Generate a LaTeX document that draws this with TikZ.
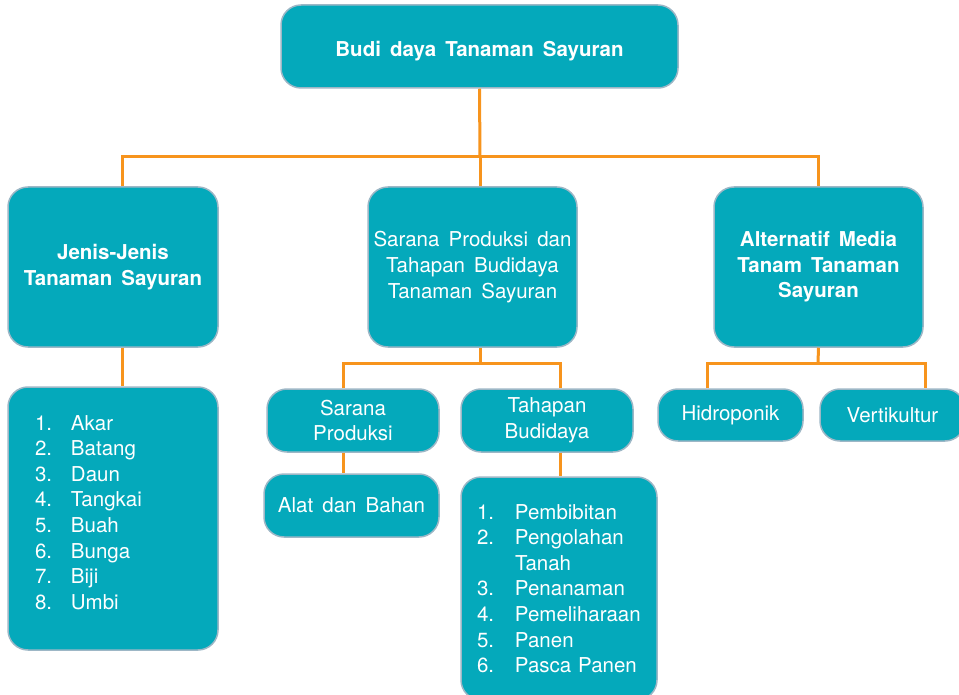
\documentclass[tikz,border=0pt]{standalone}
\usepackage{fontspec}
\setmainfont{TeX Gyre Heros}[WordSpace=1.6]
\definecolor{tosca}{HTML}{04A9BB}
\definecolor{rim}{HTML}{9DB7C6}
\definecolor{jingga}{HTML}{F7941D}

\begin{document}
\begin{tikzpicture}[x=1pt, y=-1pt, font=\fontsize{20.5}{25.6}\selectfont,
  box/.style={draw=rim, line width=1.5, fill=tosca, text=white, rounded corners=20, align=center, inner sep=0},
  listbox/.style={box, align=left, inner xsep=18, text width=#1},
  link/.style={draw=jingga, line width=3}]

\useasboundingbox (0,0) rectangle (959,695);
\clip (0,0) rectangle (959,695);

%kotak utama
\node [box, minimum width=397, minimum height=83] (top) at (479.5,46.5) {\raisebox{-5pt}[\height][\depth]{\bfseries Budi daya Tanaman Sayuran}};

%tingkat kedua
\node [box, minimum width=210, minimum height=160] (jenis) at (113,267) {\bfseries Jenis-Jenis\\ \bfseries Tanaman Sayuran};
\node [box, minimum width=209, minimum height=160] (sarana) at (472.5,267) {Sarana Produksi dan\\ Tahapan Budidaya\\ Tanaman Sayuran};
\node [box, minimum width=209, minimum height=160] (alt) at (818.5,267) {\bfseries Alternatif Media\\ \bfseries Tanam Tanaman\\ \bfseries Sayuran};

%daftar jenis
\node [listbox=156, minimum width=210, minimum height=263, inner xsep=27] (jlist) at (113,518.5) {%
\makebox[36pt][l]{1.}Akar\\ \makebox[36pt][l]{2.}Batang\\ \makebox[36pt][l]{3.}Daun\\ \makebox[36pt][l]{4.}Tangkai\\
\makebox[36pt][l]{5.}Buah\\ \makebox[36pt][l]{6.}Bunga\\ \makebox[36pt][l]{7.}Biji\\ \makebox[36pt][l]{8.}Umbi\\[-13pt]\mbox{}};

%sarana dan tahapan
\node [box, minimum width=172, minimum height=63] (sprod) at (353,420.5) {Sarana\\ Produksi};
\node [box, minimum width=172, minimum height=63] (tahap) at (547,420.5) {Tahapan\\ Budidaya};
\node [box, minimum width=175, minimum height=63] (alat) at (351.5,505.5) {Alat dan Bahan};
\node [listbox=164, minimum width=196, minimum height=223, inner xsep=16] (tlist) at (559,588.5) {%
\makebox[38pt][l]{1.}Pembibitan\\ \makebox[38pt][l]{2.}Pengolahan\\ \hspace*{38pt}Tanah\\ \makebox[38pt][l]{3.}Penanaman\\
\makebox[38pt][l]{4.}Pemeliharaan\\ \makebox[38pt][l]{5.}Panen\\ \makebox[38pt][l]{6.}Pasca Panen};

%media tanam
\node [box, minimum width=145, minimum height=52] (hidro) at (730.5,415) {Hidroponik};
\node [box, minimum width=145, minimum height=52] (verti) at (892.5,415) {Vertikultur};

%garis penghubung
\coordinate (bus) at (480,157);
\coordinate (bus2) at (480,363);
\coordinate (bus3) at (818,363);
\draw [link] (top.south) -- (bus);
\draw [link] ([xshift=9]jenis.north) |- (bus) -| (alt.north);
\draw [link] (bus) -- (bus |- sarana.north);
\draw [link] ([xshift=9]jenis.south) -- ([xshift=9]jenis.south |- jlist.north);
\draw [link] (bus2 |- sarana.south) -- (bus2);
\draw [link] ([xshift=-10]sprod.north) |- (bus2) -| ([xshift=13]tahap.north);
\draw [link] ([xshift=-10]sprod.south) -- ([xshift=-10]sprod.south |- alat.north);
\draw [link] ([xshift=13]tahap.south) -- ([xshift=13]tahap.south |- tlist.north);
\draw [link] (alt.south) -- (bus3);
\draw [link] ([xshift=-23.5]hidro.north) |- (bus3) -| ([xshift=32.5]verti.north);

\end{tikzpicture}
\end{document}
